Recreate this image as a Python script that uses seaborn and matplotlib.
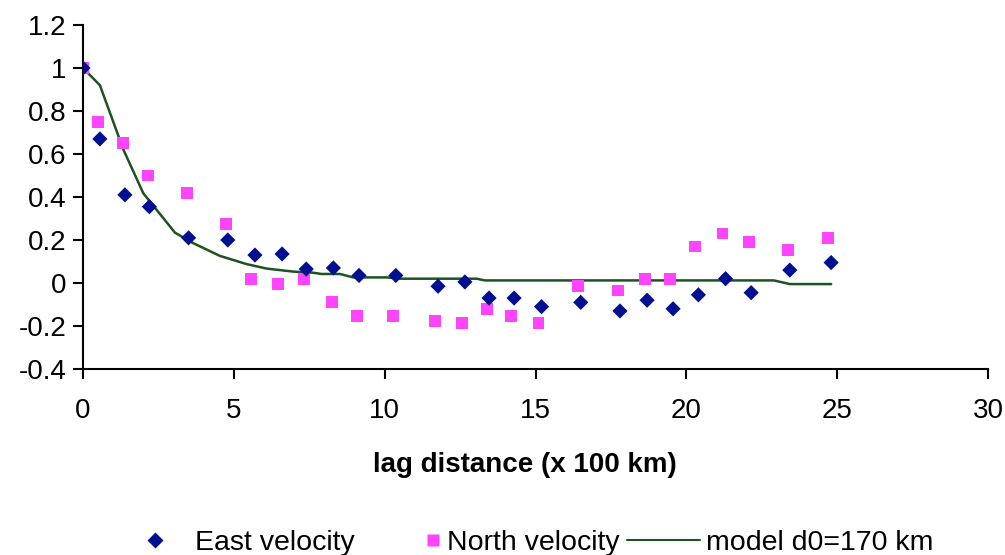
import numpy as np
import pandas as pd
import matplotlib
matplotlib.use("Agg")
import matplotlib.pyplot as plt
import seaborn as sns
from matplotlib.lines import Line2D

east_x = [0, 0.56, 1.39, 2.2, 3.5, 4.8, 5.7, 6.6, 7.4, 8.3, 9.15, 10.37, 11.77, 12.66,
          13.46, 14.29, 15.2, 16.5, 17.8, 18.7, 19.56, 20.4, 21.3, 22.15, 23.43, 24.8]
east_y = [1.0, 0.67, 0.41, 0.355, 0.21, 0.2, 0.13, 0.135, 0.065, 0.07, 0.035, 0.035, -0.015, 0.005,
          -0.07, -0.07, -0.11, -0.09, -0.13, -0.08, -0.12, -0.055, 0.02, -0.045, 0.06, 0.095]

north_x = [0, 0.5, 1.33, 2.15, 3.45, 4.74, 5.57, 6.46, 7.33, 8.25, 9.08, 10.28, 11.67, 12.56,
           13.4, 14.2, 15.1, 16.4, 17.73, 18.63, 19.46, 20.3, 21.2, 22.07, 23.37, 24.7]
north_y = [1.0, 0.75, 0.65, 0.5, 0.42, 0.275, 0.02, -0.005, 0.02, -0.09, -0.155, -0.155, -0.175, -0.185,
           -0.12, -0.155, -0.185, -0.015, -0.035, 0.02, 0.02, 0.17, 0.23, 0.19, 0.155, 0.21]

model_x = [0, 0.56, 1.34, 2.0, 3.05, 3.66, 4.54, 5.42, 6.09, 6.97, 7.62, 7.9, 8.52, 8.96,
           10.07, 10.5, 13.05, 13.32, 22.9, 23.43, 24.8]
model_y = [1.0, 0.92, 0.62, 0.417, 0.234, 0.185, 0.126, 0.088, 0.067, 0.053, 0.048, 0.042, 0.042, 0.026,
           0.026, 0.02, 0.02, 0.012, 0.012, -0.005, -0.005]

x_ticks = [0, 5, 10, 15, 20, 25, 30]
y_ticks = [-0.4, -0.2, 0, 0.2, 0.4, 0.6, 0.8, 1, 1.2]
y_tick_labels = ["-0.4", "-0.2", "0", "0.2", "0.4", "0.6", "0.8", "1", "1.2"]
legend_labels = ["East velocity", "North velocity", "model d0=170 km"]

sns.set_theme(style="white")
plt.rcParams['font.family'] = ['Liberation Sans', 'DejaVu Sans']
plt.rcParams['text.color'] = 'black'
plt.rcParams['axes.labelcolor'] = 'black'

EAST_C = "#001090"
NORTH_C = "#FF44FF"
MODEL_C = "#1E5220"
W, H = 1005, 555

fig = plt.figure(figsize=(W / 100, H / 100), dpi=100)
ax = fig.add_axes([83 / W, 1 - 369 / H, (988 - 83) / W, (369 - 25) / H])

east_df = pd.DataFrame({"x": east_x, "y": east_y})
north_df = pd.DataFrame({"x": north_x, "y": north_y})
model_df = pd.DataFrame({"x": model_x, "y": model_y})

sns.lineplot(data=model_df, x="x", y="y", ax=ax, color=MODEL_C, lw=1.8, sort=False, zorder=2)
sns.scatterplot(data=north_df, x="x", y="y", ax=ax, marker="s", s=72, color=NORTH_C,
                edgecolor="none", zorder=3)
sns.scatterplot(data=east_df, x="x", y="y", ax=ax, marker="D", s=60, color=EAST_C,
                edgecolor="none", zorder=4)

ax.set_xlim(0, 30)
ax.set_ylim(-0.4, 1.2)
ax.set_xticks(x_ticks)
ax.set_xticklabels([str(t) for t in x_ticks])
ax.set_yticks(y_ticks)
ax.set_yticklabels(y_tick_labels)
for s in ["top", "right"]:
    ax.spines[s].set_visible(False)
for s in ["left", "bottom"]:
    ax.spines[s].set_color("black")
    ax.spines[s].set_linewidth(1.5)
ax.tick_params(axis="both", direction="out", length=7, width=1.5, color="black",
               labelsize=20, labelcolor="black", bottom=True, left=True)
ax.tick_params(axis="y", pad=5)
ax.tick_params(axis="x", pad=14)
ax.set_xlabel("lag distance (x 100 km)", fontsize=20, fontweight="bold", labelpad=20, color="black")
ax.xaxis.label.set_x((524.5 - 83) / (988 - 83))
ax.set_ylabel("")
ax.grid(False)

# legend entries placed individually
fs = 20.5
ypos = 1 - 543 / H
entries = [
    (Line2D([], [], marker="D", color=EAST_C, linestyle="none", markersize=8, markeredgecolor="none"),
     legend_labels[0], 141, 1.0, 0.9),
    (Line2D([], [], marker="s", color=NORTH_C, linestyle="none", markersize=8.5, markeredgecolor="none"),
     legend_labels[1], 426, 0.5, 0.25),
    (Line2D([], [], color=MODEL_C, lw=1.5),
     legend_labels[2], 627, 2.57, 0.2),
]
for h, lab, x0, hl, htp in entries:
    leg = fig.legend([h], [lab], loc="center left", bbox_to_anchor=(x0 / W, ypos), frameon=False,
                     fontsize=fs, handlelength=hl, handletextpad=htp, borderpad=0, borderaxespad=0)
    for t in leg.get_texts():
        t.set_color("black")

fig.savefig("out.png", dpi=100)
